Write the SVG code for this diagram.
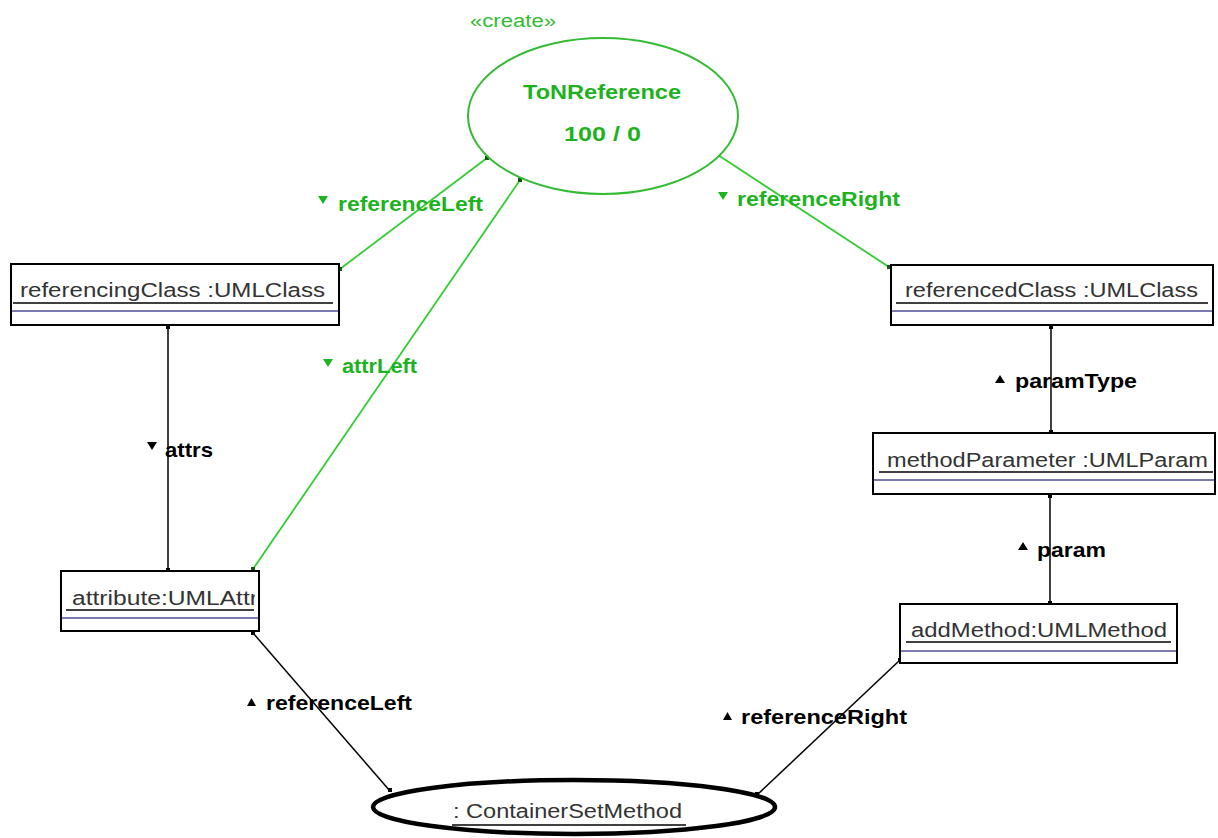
<svg xmlns="http://www.w3.org/2000/svg" width="1218" height="838" viewBox="0 0 1218 838">
  <style>
    .box { fill: #ffffff; stroke: #000000; stroke-width: 2; }
    .uline { stroke: #000000; stroke-width: 1.5; }
    .sep { stroke: #7a7ab0; stroke-width: 2; }
    .name { font-family: "Liberation Sans", Arial, sans-serif; font-size: 20px; fill: #333333; }
    .lbl { font-family: "Liberation Sans", Arial, sans-serif; font-size: 21px; font-weight: bold; fill: #000000; }
    .glbl { font-family: "Liberation Sans", Arial, sans-serif; font-size: 21px; font-weight: bold; fill: #1fb21f; }
    .edge { stroke: #000000; stroke-width: 1.5; fill: none; }
    .gedge { stroke: #33cc33; stroke-width: 1.8; fill: none; }
    .end { fill: #000000; }
    .gend { fill: #115511; }
    .tri { fill: #000000; }
    .gtri { fill: #1fb21f; }
  </style>
  <defs>
    <clipPath id="clipAttr"><rect x="62" y="572" width="193" height="58"/></clipPath>
  </defs>
  <rect width="1218" height="838" fill="#ffffff"/>

  <!-- connectors -->
  <g id="connectors">
    <line class="gedge" x1="487" y1="158" x2="340" y2="269"/>
    <line class="gedge" x1="520" y1="180" x2="253" y2="569"/>
    <line class="gedge" x1="718" y1="155" x2="889" y2="267"/>
    <line class="edge" x1="168" y1="326" x2="168" y2="571"/>
    <line class="edge" x1="1051" y1="326" x2="1051" y2="433"/>
    <line class="edge" x1="1050" y1="494" x2="1050" y2="604"/>
    <line class="edge" x1="253" y1="633" x2="390" y2="791"/>
    <line class="edge" x1="757" y1="795" x2="900" y2="660"/>

    <!-- end markers -->
    <rect class="gend" x="485" y="156" width="4" height="4"/>
    <rect class="gend" x="518" y="178" width="4" height="4"/>
    <rect class="gend" x="716" y="153" width="4" height="4"/>
    <rect class="gend" x="338" y="267" width="4" height="4"/>
    <rect class="gend" x="251" y="567" width="4" height="4"/>
    <rect class="gend" x="887" y="265" width="4" height="4"/>
    <rect class="end" x="166" y="325" width="4" height="4"/>
    <rect class="end" x="166" y="568" width="4" height="4"/>
    <rect class="end" x="1049" y="325" width="4" height="4"/>
    <rect class="end" x="1049" y="430" width="4" height="4"/>
    <rect class="end" x="1048" y="494" width="4" height="4"/>
    <rect class="end" x="1048" y="601" width="4" height="4"/>
    <rect class="end" x="251" y="631" width="4" height="4"/>
    <rect class="end" x="388" y="788" width="4" height="4"/>
    <rect class="end" x="755" y="792" width="4" height="4"/>
    <rect class="end" x="898" y="658" width="4" height="4"/>

    <!-- role labels -->
    <polygon class="gtri" points="318,196 328,196 323,204"/>
    <text class="glbl" x="338" y="211" textLength="145" lengthAdjust="spacingAndGlyphs">referenceLeft</text>
    <polygon class="gtri" points="718,192 728,192 723,200"/>
    <text class="glbl" x="737" y="206" textLength="163" lengthAdjust="spacingAndGlyphs">referenceRight</text>
    <polygon class="gtri" points="323,359 333,359 328,367"/>
    <text class="glbl" x="342" y="373" textLength="75" lengthAdjust="spacingAndGlyphs">attrLeft</text>
    <polygon class="tri" points="147,442 157,442 152,450"/>
    <text class="lbl" x="165" y="457" textLength="48" lengthAdjust="spacingAndGlyphs">attrs</text>
    <polygon class="tri" points="995,383 1005,383 1000,375"/>
    <text class="lbl" x="1015" y="388" textLength="122" lengthAdjust="spacingAndGlyphs">paramType</text>
    <polygon class="tri" points="1018,550 1028,550 1023,542"/>
    <text class="lbl" x="1037" y="557" textLength="69" lengthAdjust="spacingAndGlyphs">param</text>
    <polygon class="tri" points="247,706 256,706 251.5,698"/>
    <text class="lbl" x="266" y="710" textLength="146" lengthAdjust="spacingAndGlyphs">referenceLeft</text>
    <polygon class="tri" points="723,720 732,720 727.5,712"/>
    <text class="lbl" x="741" y="724" textLength="166" lengthAdjust="spacingAndGlyphs">referenceRight</text>
  </g>

  <!-- ToNReference (create) -->
  <g id="toNReference">
    <text x="470" y="27" font-family="'Liberation Sans', Arial, sans-serif" font-size="18" fill="#33bb33" textLength="86" lengthAdjust="spacingAndGlyphs">«create»</text>
    <ellipse cx="603" cy="116" rx="135" ry="78" fill="#ffffff" stroke="#33bb33" stroke-width="2"/>
    <text x="523" y="99" class="glbl" font-size="22" textLength="158" lengthAdjust="spacingAndGlyphs">ToNReference</text>
    <text x="564" y="141" class="glbl" font-size="22" textLength="77" lengthAdjust="spacingAndGlyphs">100  /  0</text>
  </g>

  <!-- referencingClass -->
  <g id="referencingClass">
    <rect class="box" x="11" y="264" width="328" height="61"/>
    <text class="name" x="20" y="297" textLength="305" lengthAdjust="spacingAndGlyphs">referencingClass :UMLClass</text>
    <line class="uline" x1="13" y1="303" x2="333" y2="303"/>
    <line class="sep" x1="12" y1="311" x2="338" y2="311"/>
  </g>

  <!-- referencedClass -->
  <g id="referencedClass">
    <rect class="box" x="891" y="265" width="322" height="60"/>
    <text class="name" x="905" y="297" textLength="293" lengthAdjust="spacingAndGlyphs">referencedClass :UMLClass</text>
    <line class="uline" x1="896" y1="303" x2="1208" y2="303"/>
    <line class="sep" x1="892" y1="311" x2="1212" y2="311"/>
  </g>

  <!-- methodParameter -->
  <g id="methodParameter">
    <rect class="box" x="873" y="433" width="342" height="61"/>
    <text class="name" x="887" y="467" textLength="321" lengthAdjust="spacingAndGlyphs">methodParameter :UMLParam</text>
    <line class="uline" x1="879" y1="472" x2="1213" y2="472"/>
    <line class="sep" x1="874" y1="480" x2="1214" y2="480"/>
  </g>

  <!-- attribute -->
  <g id="attribute">
    <rect class="box" x="61" y="571" width="198" height="60"/>
    <text class="name" clip-path="url(#clipAttr)" x="72" y="605" textLength="186" lengthAdjust="spacingAndGlyphs">attribute:UMLAttr</text>
    <line class="uline" x1="66" y1="610" x2="254" y2="610"/>
    <line class="sep" x1="62" y1="618" x2="258" y2="618"/>
  </g>

  <!-- addMethod -->
  <g id="addMethod">
    <rect class="box" x="900" y="604" width="277" height="59"/>
    <text class="name" x="911" y="637" textLength="256" lengthAdjust="spacingAndGlyphs">addMethod:UMLMethod</text>
    <line class="uline" x1="906" y1="642" x2="1171" y2="642"/>
    <line class="sep" x1="901" y1="651" x2="1176" y2="651"/>
  </g>

  <!-- ContainerSetMethod -->
  <g id="containerSetMethod">
    <ellipse cx="574" cy="807" rx="201" ry="27" fill="#ffffff" stroke="#000000" stroke-width="4.5"/>
    <text class="name" x="453" y="818" textLength="229" lengthAdjust="spacingAndGlyphs">: ContainerSetMethod</text>
    <line class="uline" x1="452" y1="825" x2="686" y2="825"/>
  </g>
</svg>
